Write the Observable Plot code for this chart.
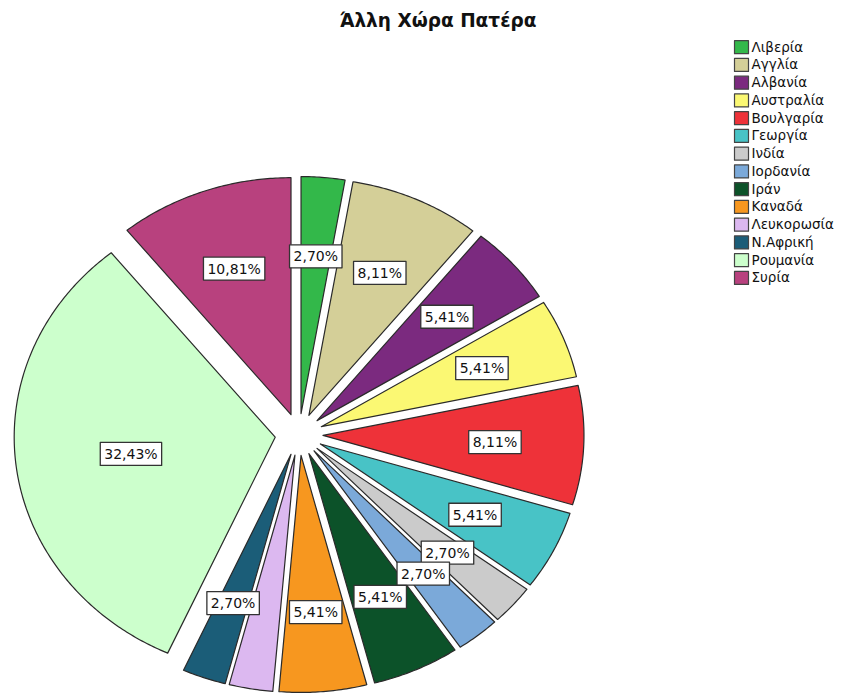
<!DOCTYPE html>
<html><head><meta charset="utf-8">
<script src="https://cdn.jsdelivr.net/npm/d3@7"></script>
<script src="https://cdn.jsdelivr.net/npm/@observablehq/plot@0.6"></script>
<style>
body{margin:0;background:#fff}
svg{display:block}
g[aria-label="legend-text"] text{letter-spacing:0.4px}
</style>
</head><body><div id="chart"></div>
<script>
const title = "Άλλη Χώρα Πατέρα";
const countries = ["Λιβερία","Αγγλία","Αλβανία","Αυστραλία","Βουλγαρία","Γεωργία","Ινδία","Ιορδανία","Ιράν","Καναδά","Λευκορωσία","Ν.Αφρική","Ρουμανία","Συρία"];
const counts = [1,3,2,2,3,2,1,1,2,2,1,1,12,4];
const colors = ["#33b84a","#d4cf98","#7b2a7f","#fbf873","#ee3239","#48c3c6","#cbcbcb","#7ba9d9","#0c5229","#f7971f","#dcb8f0","#1b5d78","#ccffcc","#b8417e"];
const hiddenLabels = ["Λευκορωσία"];

const W = 841, H = 697;
const cx = 298.5, cy = 434, rx = 261, ry = 237, ex = 24, ey = 21;
const total = d3.sum(counts);
const fmt = v => (v / total * 100).toFixed(2).replace(".", ",") + "%";

const FONT = '"DejaVu Sans", Verdana, sans-serif';
const canvas = document.createElement("canvas");
const ctx = canvas.getContext("2d");
const labelFont = 14;
ctx.font = `${labelFont}px ${FONT}`;

const arcs = d3.pie().sort(null).value(d => d)(counts);
const slices = [], labels = [], boxes = [];
arcs.forEach((a, i) => {
  const mid = (a.startAngle + a.endAngle) / 2;
  const ox = cx + ex * Math.sin(mid), oy = cy - ey * Math.cos(mid);
  const n = Math.max(2, Math.ceil((a.endAngle - a.startAngle) / 0.01));
  const ring = [[ox, oy]];
  for (let k = 0; k <= n; k++) {
    const t = a.startAngle + (a.endAngle - a.startAngle) * k / n;
    ring.push([ox + rx * Math.sin(t), oy - ry * Math.cos(t)]);
  }
  ring.push([ox, oy]);
  slices.push({type: "Feature", properties: {color: colors[i]}, geometry: {type: "Polygon", coordinates: [ring]}});
  if (!hiddenLabels.includes(countries[i])) {
    const half = (a.endAngle - a.startAngle) / 2;
    const f = (2 / 3) * Math.sin(half) / half;
    const lx = ox + f * rx * Math.sin(mid), ly = oy - f * ry * Math.cos(mid);
    const text = fmt(counts[i]);
    const tw = ctx.measureText(text).width;
    const bw = tw / 2 + 4, bh = 11.5;
    labels.push({lx: lx, ly: ly + 0.5, text});
    boxes.push({type: "Feature", properties: {}, geometry: {type: "Polygon", coordinates: [[[lx - bw, ly - bh], [lx + bw, ly - bh], [lx + bw, ly + bh], [lx - bw, ly + bh], [lx - bw, ly - bh]]]}});
  }
});

// legend
const legX = 734, legY = 46.7, legStep = 17.75, sw = 14, sh = 13;
const legendBoxes = countries.map((c, i) => {
  const y = legY + i * legStep;
  return {type: "Feature", properties: {color: colors[i]}, geometry: {type: "Polygon", coordinates: [[[legX, y - sh/2], [legX + sw, y - sh/2], [legX + sw, y + sh/2], [legX, y + sh/2], [legX, y - sh/2]]]}};
});
const legendText = countries.map((c, i) => ({x: legX + sw + 3, y: legY + i * legStep, text: c}));

const chart = Plot.plot({
  width: W, height: H, margin: 0,
  style: {fontFamily: FONT, background: "#fff"},
  color: {type: "identity"},
  projection: {type: "identity", domain: {type: "Polygon", coordinates: [[[0, 0], [W, 0], [W, H], [0, H], [0, 0]]]}},
  marks: [
    Plot.geo(slices, {fill: d => d.properties.color, stroke: "#2a2a2a", strokeWidth: 1.2, strokeLinejoin: "round"}),
    Plot.geo(boxes, {fill: "#fff", stroke: "#333", strokeWidth: 1.3}),
    Plot.text(labels, {x: "lx", y: "ly", text: "text", fontSize: labelFont, fill: "#111", ariaLabel: "pct-labels"}),
    Plot.geo(legendBoxes, {fill: d => d.properties.color, stroke: "#444", strokeWidth: 1.2}),
    Plot.text(legendText, {x: "x", y: "y", text: "text", textAnchor: "start", fontSize: 13.5, fill: "#111", ariaLabel: "legend-text"}),
    Plot.text([title], {x: () => 437.5, y: () => 21, text: d => d, fontSize: 18.5, fontWeight: "bold", fill: "#111"})
  ]
});
document.getElementById("chart").appendChild(chart);
</script>
</body></html>
